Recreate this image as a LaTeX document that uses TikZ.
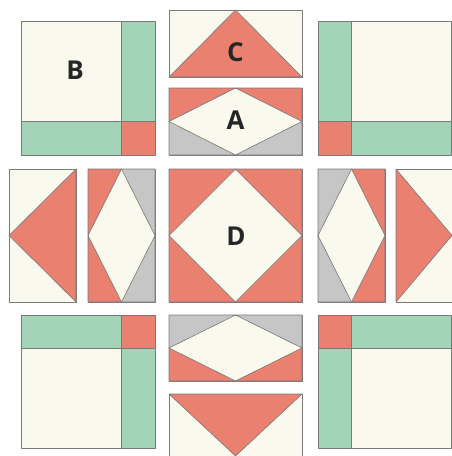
\documentclass[tikz,border=0pt]{standalone}
\usepackage{fontspec}
\setmainfont{Open Sans}
\definecolor{creamc}{HTML}{F9F9EE}
\definecolor{redc}{HTML}{E98070}
\definecolor{greenc}{HTML}{A3D4B7}
\definecolor{grayc}{HTML}{C6C6C6}
\definecolor{edgec}{HTML}{7A7A7A}
\tikzset{
  patch/.style={draw=edgec, line width=0.6pt, line join=round},
  cr/.style={patch, fill=creamc},
  rd/.style={patch, fill=redc},
  gn/.style={patch, fill=greenc},
  gy/.style={patch, fill=grayc},
  lbl/.style={font=\bfseries\fontsize{26}{26}\selectfont, text=black!85, inner sep=0pt}
}
\begin{document}
\begin{tikzpicture}[x=1pt,y=-1pt]
\useasboundingbox (0,0) rectangle (452,456);
\clip (0,0) rectangle (452,456);
% ---- B block (top-left)
\draw[cr] (21,21) rectangle (121,121);
\draw[gn] (121,21) rectangle (155,121);
\draw[gn] (21,121) rectangle (121,155);
\draw[rd] (121,121) rectangle (155,155);
% ---- top-right block
\draw[gn] (318,21) rectangle (351,121);
\draw[cr] (351,21) rectangle (451,121);
\draw[rd] (318,121) rectangle (351,155);
\draw[gn] (351,121) rectangle (451,155);
% ---- bottom-left block
\draw[gn] (21,315) rectangle (121,348);
\draw[rd] (121,315) rectangle (155,348);
\draw[cr] (21,348) rectangle (121,448);
\draw[gn] (121,348) rectangle (155,448);
% ---- bottom-right block
\draw[rd] (318,315) rectangle (351,348);
\draw[gn] (351,315) rectangle (451,348);
\draw[gn] (318,348) rectangle (351,448);
\draw[cr] (351,348) rectangle (451,448);
% ---- C top
\draw[cr] (169,10) rectangle (302,77);
\draw[rd] (169,77) -- (235.5,10) -- (302,77) -- cycle;
% ---- A top
\draw[cr] (169,88) rectangle (302,155);
\draw[rd] (169,88) -- (235.5,88) -- (169,121.5) -- cycle;
\draw[rd] (235.5,88) -- (302,88) -- (302,121.5) -- cycle;
\draw[gy] (169,121.5) -- (169,155) -- (235.5,155) -- cycle;
\draw[gy] (302,121.5) -- (302,155) -- (235.5,155) -- cycle;
% ---- middle row
\draw[cr] (9,169) rectangle (76,302);
\draw[rd] (76,169) -- (9,235.5) -- (76,302) -- cycle;
\draw[cr] (88,169) rectangle (155,302);
\draw[rd] (88,169) -- (121.5,169) -- (88,235.5) -- cycle;
\draw[gy] (121.5,169) -- (155,169) -- (155,235.5) -- cycle;
\draw[rd] (88,235.5) -- (88,302) -- (121.5,302) -- cycle;
\draw[gy] (155,235.5) -- (155,302) -- (121.5,302) -- cycle;
\draw[cr] (169,169) rectangle (302,302);
\draw[rd] (169,169) -- (235.5,169) -- (169,235.5) -- cycle;
\draw[rd] (235.5,169) -- (302,169) -- (302,235.5) -- cycle;
\draw[rd] (169,235.5) -- (169,302) -- (235.5,302) -- cycle;
\draw[rd] (302,235.5) -- (302,302) -- (235.5,302) -- cycle;
\draw[cr] (318,169) rectangle (385,302);
\draw[gy] (318,169) -- (351.5,169) -- (318,235.5) -- cycle;
\draw[rd] (351.5,169) -- (385,169) -- (385,235.5) -- cycle;
\draw[gy] (318,235.5) -- (318,302) -- (351.5,302) -- cycle;
\draw[rd] (385,235.5) -- (385,302) -- (351.5,302) -- cycle;
\draw[cr] (396,169) rectangle (458,302);
\draw[rd] (396,169) -- (452,235.5) -- (396,302) -- cycle;
% ---- A bottom
\draw[cr] (169,315) rectangle (302,381);
\draw[gy] (169,315) -- (235.5,315) -- (169,348) -- cycle;
\draw[gy] (235.5,315) -- (302,315) -- (302,348) -- cycle;
\draw[rd] (169,348) -- (169,381) -- (235.5,381) -- cycle;
\draw[rd] (302,348) -- (302,381) -- (235.5,381) -- cycle;
% ---- C bottom
\draw[cr] (169,394) rectangle (302,460);
\draw[rd] (169,394) -- (302,394) -- (235.5,456) -- cycle;
% ---- labels
\node[lbl] (lB) at (75,70) {B};
\node[lbl] (lC) at (235.5,52) {C};
\node[lbl] (lA) at (235.5,120) {A};
\node[lbl] (lD) at (236,236) {D};
\end{tikzpicture}
\end{document}
